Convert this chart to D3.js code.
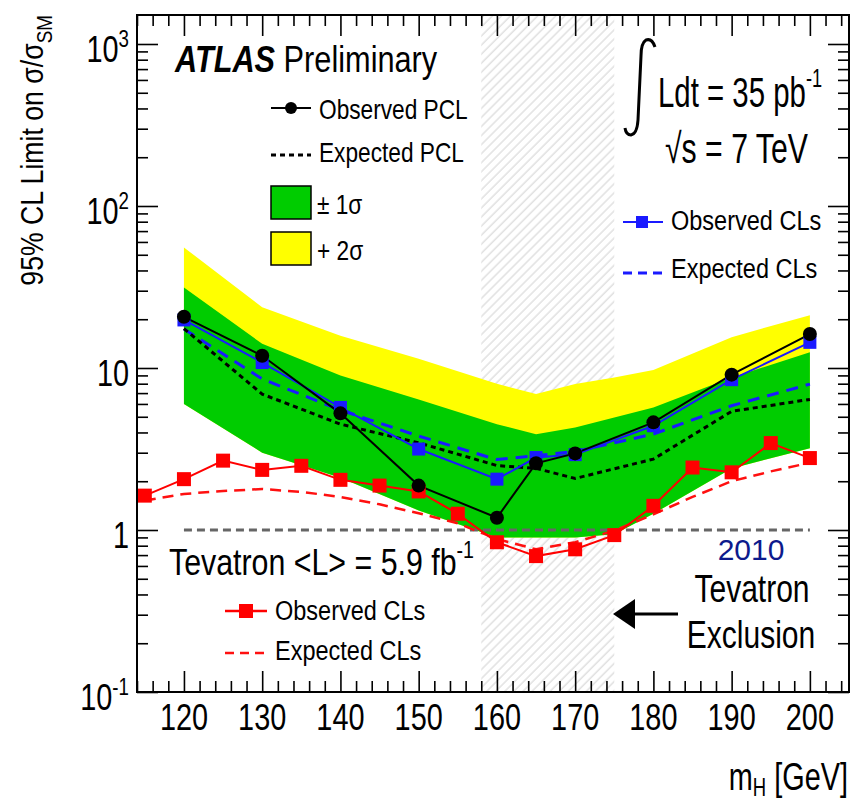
<!DOCTYPE html>
<html><head><meta charset="utf-8">
<script src="https://cdn.jsdelivr.net/npm/d3@7"></script>
<style>body{margin:0;background:#fff} text{font-family:"Liberation Sans",Arial,Helvetica,sans-serif}</style>
</head><body><svg id="c" width="852" height="804"></svg>
<script>
// ---------- data ----------
const massPCL   = [120,130,140,150,160,165,170,180,190,200];
const obsPCL    = [20.7,11.9,5.25,1.88,1.19,2.58,2.97,4.62,9.1,16.2];
const expPCL    = [17.5,6.9,4.5,3.45,2.5,2.4,2.08,2.74,5.4,6.4];
const obsCLsATLAS = [19.8,10.8,5.71,3.16,2.06,2.8,2.92,4.4,8.47,14.4];
const expCLsATLAS = [17.4,8.55,5.5,3.8,2.72,2.88,3.05,3.91,5.85,7.95];
const massBand  = [120,130,140,150,160,165,170,175,180,190,200];
const band1Lo   = [6.0,3.0,2.1,1.32,0.9,0.9,0.9,0.94,1.26,2.4,3.2];
const band1Hi   = [31.4,14.1,9.0,6.4,4.5,3.9,4.3,4.95,5.7,8.75,12.5];
const band2Hi   = [55.5,23.7,15.8,11.4,8.0,6.9,7.96,8.75,9.72,15.5,21.2];
const massTev   = [115,120,125,130,135,140,145,150,155,160,165,170,175,180,185,190,195,200];
const obsTev    = [1.63,2.06,2.68,2.35,2.49,2.04,1.88,1.73,1.26,0.84,0.69,0.76,0.93,1.41,2.43,2.27,3.44,2.78];
const expTev    = [1.52,1.67,1.74,1.79,1.72,1.6,1.44,1.27,1.1,0.88,0.76,0.84,0.99,1.25,1.6,2.0,2.3,2.6];
const tevExcl   = [158,175];
const xMajor    = [120,130,140,150,160,170,180,190,200];
const yMajor    = [0.1,1,10,100,1000];
const yLabels   = [["10","-1"],["1",""],["10",""],["10","2"],["10","3"]];

// ---------- setup ----------
const svg = d3.select("#c");
const M = {left:137,right:849,top:15,bottom:692};
const x = d3.scaleLinear().domain([114,205]).range([M.left,M.right]);
const y = d3.scaleLog().domain([0.1,1510]).range([M.bottom,M.top]);

function txt(px, py, size, sx, anchor, parts, fill, rot) {
  const g = svg.append("g").attr("transform", `translate(${px},${py})${rot?` rotate(${rot})`:""} scale(${sx},1)`);
  const t = g.append("text").attr("font-size", size).attr("text-anchor", anchor).attr("fill", fill||"#000");
  parts.forEach(p => {
    const s = t.append("tspan").text(p.t);
    if (p.size) s.attr("font-size", p.size);
    if (p.dy) s.attr("dy", p.dy);
    if (p.w) s.attr("font-weight", p.w);
    if (p.st) s.attr("font-style", p.st);
  });
  return t;
}

// hatch pattern
const defs = svg.append("defs");
const pat = defs.append("pattern").attr("id","hatch").attr("patternUnits","userSpaceOnUse")
  .attr("width",6.4).attr("height",20).attr("patternTransform","rotate(45)");
pat.append("line").attr("x1",1).attr("y1",0).attr("x2",1).attr("y2",20).attr("stroke","#d6d6d6").attr("stroke-width",1.1);

svg.append("rect").attr("x",x(tevExcl[0])).attr("y",M.top).attr("width",x(tevExcl[1])-x(tevExcl[0]))
  .attr("height",M.bottom-M.top).attr("fill","url(#hatch)");

// bands
const idx = d3.range(massBand.length);
svg.append("path").datum(idx).attr("fill","#ffff00")
  .attr("d", d3.area().x(i=>x(massBand[i])).y0(i=>y(band1Lo[i])).y1(i=>y(band2Hi[i])));
svg.append("path").datum(idx).attr("fill","#00cc00")
  .attr("d", d3.area().x(i=>x(massBand[i])).y0(i=>y(band1Lo[i])).y1(i=>y(band1Hi[i])));

// y = 1 line
svg.append("line").attr("x1",x(120)).attr("x2",x(200)).attr("y1",y(1)).attr("y2",y(1))
  .attr("stroke","#666").attr("stroke-width",3).attr("stroke-dasharray","8,5");

function line(ms, vs, color, w, dash) {
  svg.append("path").datum(d3.range(ms.length)).attr("fill","none").attr("stroke",color)
    .attr("stroke-width",w).attr("stroke-dasharray",dash||null)
    .attr("d", d3.line().x(i=>x(ms[i])).y(i=>y(vs[i])));
}
line(massTev, expTev, "#ff1010", 2.5, "11,7");
line(massTev, obsTev, "#ff0000", 2);
line(massPCL, expCLsATLAS, "#1a1aff", 3, "12,8");
line(massPCL, expPCL, "#000", 3, "5,4");
line(massPCL, obsCLsATLAS, "#1a1aff", 2);
line(massPCL, obsPCL, "#000", 2);

function squares(ms, vs, color, s) {
  svg.append("g").selectAll("rect").data(d3.range(ms.length)).join("rect")
    .attr("x",i=>x(ms[i])-s/2).attr("y",i=>y(vs[i])-s/2).attr("width",s).attr("height",s).attr("fill",color);
}
squares(massTev, obsTev, "#ff0000", 14);
squares(massPCL, obsCLsATLAS, "#1a1aff", 13);
svg.append("g").selectAll("circle").data(d3.range(massPCL.length)).join("circle")
  .attr("cx",i=>x(massPCL[i])).attr("cy",i=>y(obsPCL[i])).attr("r",7).attr("fill","#000");

// axes ticks (inward)
const xMinor = d3.range(114,206,2).filter(v=>!xMajor.includes(v));
const yMinor = [];
[0.1,1,10,100,1000].forEach(d=>{for(let k=2;k<=9;k++){const v=d*k; if(v<1510) yMinor.push(v);}});
function ax(axisFn, scale, vals, size, tr) {
  const g = svg.append("g").attr("transform",tr).call(axisFn(scale).tickValues(vals).tickSize(size).tickFormat(""));
  g.select(".domain").remove();
  g.selectAll("line").attr("stroke","#000").attr("stroke-width",1.6);
}
ax(d3.axisBottom, x, xMajor, -21, `translate(0,${M.bottom})`);
ax(d3.axisBottom, x, xMinor, -11, `translate(0,${M.bottom})`);
ax(d3.axisTop, x, xMajor, -21, `translate(0,${M.top})`);
ax(d3.axisTop, x, xMinor, -11, `translate(0,${M.top})`);
ax(d3.axisLeft, y, yMajor, -21, `translate(${M.left},0)`);
ax(d3.axisLeft, y, yMinor, -11, `translate(${M.left},0)`);
ax(d3.axisRight, y, yMajor, -21, `translate(${M.right},0)`);
ax(d3.axisRight, y, yMinor, -11, `translate(${M.right},0)`);

svg.append("rect").attr("x",M.left).attr("y",M.top).attr("width",M.right-M.left).attr("height",M.bottom-M.top)
  .attr("fill","none").attr("stroke","#000").attr("stroke-width",2);

// tick labels
xMajor.forEach(v => txt(x(v), 730, 37, 0.78, "middle", [{t:String(v)}]));
yMajor.forEach((v,i) => {
  const [b,s] = yLabels[i];
  const parts = [{t:b}];
  if (s) parts.push({t:s, size:24, dy:-15});
  txt(129, y(v)+18, 37, 0.78, "end", parts);
});

// axis titles
txt(43, 15, 31, 0.86, "end", [{t:"95% CL Limit on σ/σ"},{t:"SM", size:22, dy:9}], "#000", -90);
txt(848, 790, 39, 0.74, "end", [{t:"m"},{t:"H", size:25, dy:6},{t:" [GeV]", dy:-6}]);

// ATLAS label
txt(175, 72, 37, 0.83, "start", [{t:"ATLAS", w:"bold", st:"italic"},{t:" Preliminary"}]);

// PCL legend
svg.append("line").attr("x1",271).attr("x2",311).attr("y1",108).attr("y2",108).attr("stroke","#000").attr("stroke-width",2);
svg.append("circle").attr("cx",291).attr("cy",108).attr("r",6).attr("fill","#000");
txt(319, 119, 28, 0.81, "start", [{t:"Observed PCL"}]);
svg.append("line").attr("x1",271).attr("x2",311).attr("y1",155).attr("y2",155).attr("stroke","#000").attr("stroke-width",3).attr("stroke-dasharray","5,4");
txt(319, 162, 28, 0.81, "start", [{t:"Expected PCL"}]);
svg.append("rect").attr("x",271).attr("y",186).attr("width",40).attr("height",33).attr("fill","#00cc00").attr("stroke","#000").attr("stroke-width",1.5);
txt(317, 214, 28, 0.81, "start", [{t:"± 1σ"}]);
svg.append("rect").attr("x",271).attr("y",232).attr("width",40).attr("height",33).attr("fill","#ffff00").attr("stroke","#000").attr("stroke-width",1.5);
txt(317, 260, 28, 0.81, "start", [{t:"+ 2σ"}]);

// luminosity label
svg.append("path").attr("d","M655,47 Q652,38 646,40 Q641,43 641,56 L638,120 Q637,134 631,135 Q626,135 625,128")
  .attr("fill","none").attr("stroke","#000").attr("stroke-width",3);
txt(658, 107, 42, 0.70, "start", [{t:"Ldt = 35 pb"},{t:"-1", size:26, dy:-20}]);
txt(665, 163, 42, 0.72, "start", [{t:"√s = 7 TeV"}]);

// ATLAS CLs legend
svg.append("line").attr("x1",623).attr("x2",663).attr("y1",222).attr("y2",222).attr("stroke","#1a1aff").attr("stroke-width",2);
svg.append("rect").attr("x",636).attr("y",216).attr("width",12).attr("height",12).attr("fill","#1a1aff");
txt(671, 230, 28, 0.84, "start", [{t:"Observed CLs"}]);
svg.append("line").attr("x1",623).attr("x2",663).attr("y1",273).attr("y2",273).attr("stroke","#1a1aff").attr("stroke-width",3).attr("stroke-dasharray","9,6");
txt(671, 278, 28, 0.84, "start", [{t:"Expected CLs"}]);

// Tevatron legend
txt(169, 575, 37, 0.82, "start", [{t:"Tevatron <L> = 5.9 fb"},{t:"-1", size:24, dy:-17}]);
svg.append("line").attr("x1",225).attr("x2",267).attr("y1",611).attr("y2",611).attr("stroke","#ff0000").attr("stroke-width",2.5);
svg.append("rect").attr("x",239).attr("y",604).attr("width",14).attr("height",14).attr("fill","#ff0000");
txt(275, 620, 28, 0.84, "start", [{t:"Observed CLs"}]);
svg.append("line").attr("x1",225).attr("x2",267).attr("y1",653).attr("y2",653).attr("stroke","#ff1010").attr("stroke-width",2.5).attr("stroke-dasharray","9,6");
txt(275, 660, 28, 0.84, "start", [{t:"Expected CLs"}]);

// Tevatron exclusion
txt(751, 560, 30, 1.0, "middle", [{t:"2010"}], "#0d1a8c");
txt(752, 602, 39, 0.77, "middle", [{t:"Tevatron"}]);
txt(751, 648, 39, 0.77, "middle", [{t:"Exclusion"}]);
svg.append("line").attr("x1",678).attr("x2",630).attr("y1",614).attr("y2",614).attr("stroke","#000").attr("stroke-width",3);
svg.append("path").attr("d","M613,614 L635,599 L635,629 Z").attr("fill","#000");
</script></body></html>
